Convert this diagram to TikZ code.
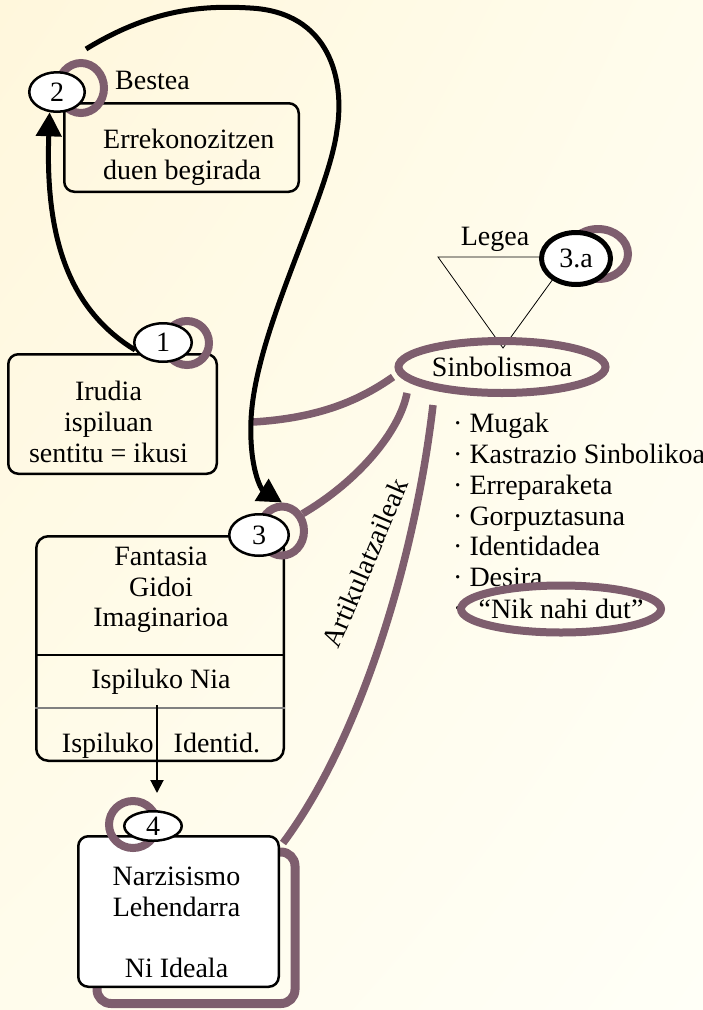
\documentclass[tikz,border=0pt]{standalone}
\usepackage{fontspec}
\setmainfont{Liberation Serif}
\usetikzlibrary{arrows.meta,shapes.geometric,shadings,positioning}
\definecolor{mauve}{RGB}{126,94,110}
\definecolor{creamA}{RGB}{255,247,220}
\definecolor{creamB}{RGB}{255,252,236}
\definecolor{creamC}{RGB}{255,255,247}

\begin{document}
\begin{tikzpicture}[x=1pt,y=-1pt,
  every node/.style={font=\fontsize{28}{30.8}\selectfont,inner sep=0pt},
  box/.style={draw,line width=2.5pt,rounded corners=10pt},
  num/.style={ellipse,draw,fill=white,line width=2.5pt},
  ring/.style={ellipse,draw=mauve,line width=8pt},
  link/.style={draw=mauve,line width=7.5pt},
  big/.style={line width=5pt,-{Triangle[length=24pt,width=25pt]}}]

\shade[upper left=creamA,upper right=creamB,lower left=creamB,lower right=creamC]
  (0,0) rectangle (703,1010);
\useasboundingbox (0,0) rectangle (703,1010);

% boxes
\node[box,minimum width=234.5pt,minimum height=88.5pt] (b2) at (181.5,147.5) {};
\node[box,minimum width=208.5pt,minimum height=119.5pt] (b1) at (112.5,414) {};
\node[box,rounded corners=12pt,minimum width=247.5pt,minimum height=224.5pt] (b3) at (160,648.5) {};
\path (0,655) coordinate (sepA) (0,708) coordinate (sepB) (157,705) coordinate (split);
\draw[line width=1.2pt] (b3.west |- sepA) -- (b3.east |- sepA);
\draw[gray,line width=1.5pt] (b3.west |- sepB) -- (b3.east |- sepB);
\draw[mauve,line width=9pt,rounded corners=14pt] (97,852) rectangle (295,1003.5);
\node[box,fill=white,minimum width=200.5pt,minimum height=150.5pt] (b4) at (178.5,911.5) {};

% Legea
\draw[line width=0.8pt] (438,257) -- (569,257) -- (503,348) -- cycle;

% texts
\node[anchor=base west] (bestea) at (115,89) {Bestea};
\node[align=left,anchor=north west] (t2) at (103,129) {Errekonozitzen\\duen begirada};
\node[align=center,anchor=north] (t1) at (108.5,381) {Irudia\\ispiluan\\sentitu = ikusi};
\node[align=center,anchor=north] (t3) at (161,546.5) {Fantasia\\Gidoi\\Imaginarioa};
\node[anchor=base] (nia) at (161,688) {Ispiluko Nia};
\node[anchor=base] (ident) at (161,752) {Ispiluko\hspace{20pt}Identid.};
\node[align=center,anchor=north] (t4) at (176.5,866.5) {Narzisismo\\Lehendarra\\[31pt]Ni Ideala};
\node[anchor=base] (legea) at (495,245) {Legea};
\node[align=left,anchor=north west] (list) at (453,413)
  {· Mugak\\· Kastrazio Sinbolikoa\\· Erreparaketa\\· Gorpuztasuna\\· Identidadea\\· Desira\\·};
\node[rotate=67] (artik) at (365,563) {Artikulatzaileak};

% numbered
\node[ring,minimum width=46pt,minimum height=50pt] (r2) at (81,88) {};
\node[ring,minimum width=44pt,minimum height=44pt] (r1) at (187,343) {};
\node[ring,minimum width=44pt,minimum height=49pt] (r3) at (282,531) {};
\node[ring,minimum width=48pt,minimum height=47pt] (r4) at (133,824.5) {};
\node[ring,minimum width=60pt,minimum height=50pt] (r3a) at (598,254) {};
\node[num,minimum width=55.5pt,minimum height=39.5pt] (e2) at (57,92) {2};
\node[num,minimum width=57.5pt,minimum height=38.5pt] (e1) at (163,342.5) {1};
\node[num,minimum width=59.5pt,minimum height=41.5pt] (e3) at (259,535) {3};
\node[num,minimum width=57.5pt,minimum height=29.5pt] (e4) at (153,826) {4};
\node[num,line width=5pt,minimum width=69pt,minimum height=52pt] (e3a) at (576,258.5) {3.a};

\node[ellipse,draw=mauve,line width=8pt,minimum width=207pt,minimum height=52pt] (sinb) at (502,367) {Sinbolismoa};
\node[ellipse,draw=mauve,line width=8pt,inner xsep=-12pt,minimum width=200pt,minimum height=47pt] (nik) at (561,609) {“Nik nahi dut”};

% links
\coordinate (j1) at (253,422);
\draw[link] (j1) .. controls (320,418) and (360,400) .. ([shift={(-109,10)}]sinb.center);
\draw[link] (r3.40) .. controls (360,480) and (400,430) .. ([shift={(-95,26)}]sinb.center);
\draw[link] ([shift={(-69,38)}]sinb.center) .. controls (415,560) and (360,740) .. ([shift={(3,8)}]b4.north east);

% arrows
\draw[big] (e1.195) .. controls (70,310) and (45,240) .. (e2.250);
\draw[big] ([shift={(5,-10)}]r2.north) .. controls (150,10) and (200,5) .. (250,8)
  .. controls (330,12) and (345,80) .. (337,130)
  .. controls (328,200) and (255,330) .. (251,420)
  .. controls (249,470) and (262,490) .. (r3.north);
\draw[line width=2pt,-{Triangle[length=13pt,width=13pt]},shorten >=17pt] (split) -- (split |- e4.north);
\end{tikzpicture}
\end{document}
